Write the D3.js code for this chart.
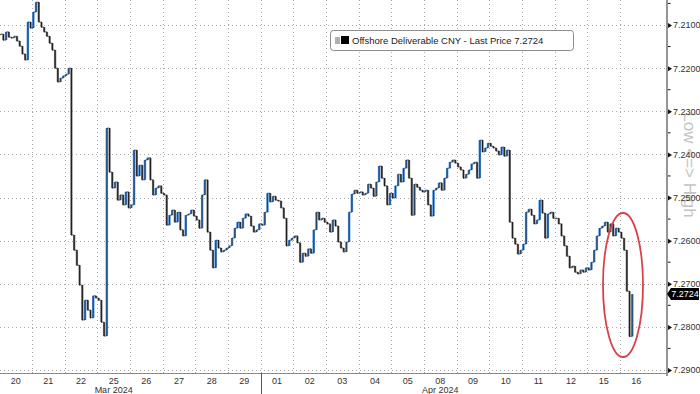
<!DOCTYPE html>
<html>
<head>
<meta charset="utf-8">
<script src="https://cdn.jsdelivr.net/npm/d3@7"></script>
<style>
  html, body { margin: 0; padding: 0; background: #fff; }
  svg { display: block; font-family: "Liberation Sans", Arial, sans-serif; }
</style>
</head>
<body>
<svg id="chart" width="700" height="394"></svg>
<script>
// trading sessions shown on the x axis
const dates = ["2024-03-20", "2024-03-21", "2024-03-22", "2024-03-25", "2024-03-26", "2024-03-27",
  "2024-03-28", "2024-03-29", "2024-04-01", "2024-04-02", "2024-04-03", "2024-04-04", "2024-04-05",
  "2024-04-08", "2024-04-09", "2024-04-10", "2024-04-11", "2024-04-12", "2024-04-15", "2024-04-16"];

// intraday closes per session (USD/CNH)
const mar20 = [7.2121, 7.2135, 7.2116, 7.2128, 7.2130, 7.2126, 7.2137, 7.2149, 7.2167, 7.2181, 7.2093, 7.2107];
const mar21 = [7.2070, 7.2047, 7.2093, 7.2105, 7.2116, 7.2126, 7.2142, 7.2158, 7.2200, 7.2232, 7.2223, 7.2218];
const mar22 = [7.2214, 7.2200, 7.2587, 7.2622, 7.2657, 7.2703, 7.2784, 7.2738, 7.2761, 7.2779, 7.2728, 7.2733];
const mar25 = [7.2738, 7.2789, 7.2821, 7.2339, 7.2441, 7.2478, 7.2464, 7.2506, 7.2494, 7.2517, 7.2487, 7.2524];
const mar26 = [7.2517, 7.2390, 7.2450, 7.2425, 7.2459, 7.2413, 7.2408, 7.2459, 7.2494, 7.2478, 7.2473, 7.2490];
const mar27 = [7.2494, 7.2564, 7.2541, 7.2529, 7.2557, 7.2534, 7.2575, 7.2589, 7.2541, 7.2538, 7.2529, 7.2543];
const mar28 = [7.2552, 7.2571, 7.2494, 7.2459, 7.2580, 7.2622, 7.2663, 7.2599, 7.2617, 7.2626, 7.2622, 7.2617];
const mar29 = [7.2612, 7.2594, 7.2571, 7.2557, 7.2571, 7.2548, 7.2538, 7.2543, 7.2566, 7.2580, 7.2575, 7.2561];
const apr01 = [7.2564, 7.2534, 7.2490, 7.2510, 7.2497, 7.2506, 7.2508, 7.2524, 7.2548, 7.2612, 7.2599, 7.2594];
const apr02 = [7.2589, 7.2605, 7.2650, 7.2629, 7.2636, 7.2619, 7.2629, 7.2575, 7.2534, 7.2552, 7.2548, 7.2557];
const apr03 = [7.2561, 7.2580, 7.2552, 7.2566, 7.2603, 7.2617, 7.2626, 7.2603, 7.2534, 7.2492, 7.2483, 7.2490];
const apr04 = [7.2487, 7.2494, 7.2490, 7.2469, 7.2478, 7.2497, 7.2464, 7.2427, 7.2455, 7.2473, 7.2517, 7.2490];
const apr05 = [7.2501, 7.2473, 7.2446, 7.2464, 7.2432, 7.2413, 7.2455, 7.2541, 7.2469, 7.2476, 7.2483, 7.2487];
const apr08 = [7.2483, 7.2517, 7.2543, 7.2483, 7.2478, 7.2466, 7.2483, 7.2455, 7.2432, 7.2418, 7.2413, 7.2420];
const apr09 = [7.2429, 7.2436, 7.2455, 7.2446, 7.2436, 7.2422, 7.2418, 7.2455, 7.2367, 7.2394, 7.2385, 7.2374];
const apr10 = [7.2381, 7.2385, 7.2392, 7.2401, 7.2383, 7.2404, 7.2390, 7.2557, 7.2594, 7.2608, 7.2631, 7.2622];
const apr11 = [7.2608, 7.2534, 7.2527, 7.2541, 7.2561, 7.2552, 7.2506, 7.2536, 7.2594, 7.2538, 7.2534, 7.2548];
const apr12 = [7.2548, 7.2561, 7.2589, 7.2612, 7.2636, 7.2663, 7.2659, 7.2673, 7.2677, 7.2668, 7.2673, 7.2663];
const apr15 = [7.2668, 7.2650, 7.2622, 7.2589, 7.2571, 7.2566, 7.2557, 7.2580, 7.2561, 7.2589, 7.2571, 7.2580];
const apr16 = [7.2594, 7.2622, 7.2717, 7.2822, 7.2724];

const sessions = [mar20, mar21, mar22, mar25, mar26, mar27, mar28, mar29, apr01, apr02, apr03,
  apr04, apr05, apr08, apr09, apr10, apr11, apr12, apr15, apr16];

const yTicks = [7.21, 7.22, 7.23, 7.24, 7.25, 7.26, 7.27, 7.28, 7.29];
const monthLabels = [["Mar 2024", "2024-03-25"], ["Apr 2024", "2024-04-08"]];
const lastPrice = 7.2724;
const legendText = "Offshore Deliverable CNY - Last Price " + lastPrice.toFixed(4);
const barsPerSession = 12;

const svg = d3.select("#chart");
const axisX = 667, axisY = 373;

// x: one band per trading day, y: inverted price scale (low on top)
const x = d3.scaleBand().domain(dates).range([-0.7, 652.7]);
const y = d3.scaleLinear().domain([7.21, 7.29]).range([25, 370]);
const fmtDay = d3.timeFormat("%d");
const parse = d3.timeParse("%Y-%m-%d");

svg.append("rect").attr("width", 700).attr("height", 394).attr("fill", "#fff");

// dotted grid
svg.append("g")
    .selectAll("line")
    .data(yTicks)
    .enter()
    .append("line")
    .attr("x1", 0).attr("x2", axisX)
    .attr("y1", d => Math.round(y(d)) + 0.5).attr("y2", d => Math.round(y(d)) + 0.5)
    .attr("stroke", "#a8a8a8").attr("stroke-dasharray", "1,3");

svg.append("g")
    .selectAll("line")
    .data(dates.slice(1))
    .enter()
    .append("line")
    .attr("x1", d => Math.round(x(d)) + 0.5).attr("x2", d => Math.round(x(d)) + 0.5)
    .attr("y1", 0).attr("y2", axisY)
    .attr("stroke", "#a8a8a8").attr("stroke-dasharray", "1,3");

// candles: open = previous close
let candles = [];
let prev = null;
sessions.forEach((vals, i) => {
    const step = x.bandwidth() / barsPerSession;
    vals.forEach((v, k) => {
        candles.push({
            x: x(dates[i]) + (k + 0.5) * step,
            open: prev === null ? v : prev,
            close: v
        });
        prev = v;
    });
});

const bars = svg.append("g");
bars.selectAll("rect")
    .data(candles)
    .enter()
    .append("rect")
    .attr("x", d => d.x - 1.2)
    .attr("width", 2.4)
    .attr("y", d => Math.min(y(d.open), y(d.close)))
    .attr("height", d => Math.max(1, Math.abs(y(d.close) - y(d.open))))
    .attr("fill", d => d.close < d.open ? "#3a83d8" : "#8a8a8a");

// dark core of the rising bars, plus the joins between bars
bars.selectAll("line.core")
    .data(candles.filter(d => d.close >= d.open))
    .enter()
    .append("line")
    .attr("class", "core")
    .attr("x1", d => d.x).attr("x2", d => d.x)
    .attr("y1", d => y(d.open)).attr("y2", d => y(d.close) + 0.5)
    .attr("stroke", "#1a1a1a").attr("stroke-width", 0.9);

bars.append("path")
    .datum(candles)
    .attr("d", d3.line().x(d => d.x).y(d => y(d.close)).curve(d3.curveStepAfter))
    .attr("fill", "none")
    .attr("stroke", "#1a1a1a").attr("stroke-width", 0.6);

// x axis
svg.append("line")
    .attr("x1", 0).attr("x2", axisX)
    .attr("y1", axisY + 0.5).attr("y2", axisY + 0.5)
    .attr("stroke", "#8a8a8a");

// month separator
const monthStart = dates.find(d => d.slice(5, 7) === "04");
svg.append("line")
    .attr("x1", Math.round(x(monthStart)) + 0.5).attr("x2", Math.round(x(monthStart)) + 0.5)
    .attr("y1", axisY).attr("y2", 394)
    .attr("stroke", "#555");

svg.append("g")
    .selectAll("text")
    .data(dates)
    .enter()
    .append("text")
    .attr("x", d => x(d) + x.bandwidth() / 2)
    .attr("y", 384)
    .attr("text-anchor", "middle")
    .attr("font-size", 9)
    .attr("fill", "#333")
    .text(d => fmtDay(parse(d)));

svg.append("g")
    .selectAll("text")
    .data(monthLabels)
    .enter()
    .append("text")
    .attr("x", d => x(d[1]) + x.bandwidth() / 2)
    .attr("y", 393)
    .attr("text-anchor", "middle")
    .attr("font-size", 9)
    .attr("fill", "#333")
    .text(d => d[0]);

// right price axis
svg.append("line")
    .attr("x1", axisX).attr("x2", axisX)
    .attr("y1", 0).attr("y2", 376)
    .attr("stroke", "#8a8a8a").attr("stroke-width", 1.8);

// inverted axis note (behind the tick labels)
svg.append("text")
    .attr("transform", "translate(684,165) rotate(90)")
    .attr("text-anchor", "middle")
    .attr("font-size", 17)
    .attr("fill", "#c4c4c4")
    .text("Low <=> High");

const yAxis = svg.append("g")
    .attr("transform", "translate(" + axisX + ",0)")
    .call(d3.axisRight(y).tickValues(yTicks).tickFormat(d3.format(".4f")).tickSize(0).tickPadding(6));
yAxis.select(".domain").remove();
yAxis.selectAll("text").attr("font-size", 9).attr("fill", "#333").attr("font-family", "Liberation Sans, Arial, sans-serif");
yAxis.selectAll(".tick").append("path").attr("d", "M1,-2.5L5,0L1,2.5Z").attr("fill", "#111");

svg.append("g")
    .selectAll("line")
    .data(yTicks.map(t => t - 0.005))
    .enter()
    .append("line")
    .attr("x1", axisX + 1).attr("x2", axisX + 3.5)
    .attr("y1", d => y(d)).attr("y2", d => y(d))
    .attr("stroke", "#111");

// last price tag
const tag = svg.append("g").attr("transform", "translate(0," + y(lastPrice) + ")");
tag.append("path").attr("d", "M667,0L671,-6L699,-6L699,6L671,6Z").attr("fill", "#000");
tag.append("text")
    .attr("x", 685).attr("y", 3.3)
    .attr("text-anchor", "middle")
    .attr("font-size", 9)
    .attr("fill", "#fff")
    .text(lastPrice.toFixed(4));

// legend
svg.append("rect")
    .attr("x", 330.5).attr("y", 30.5).attr("width", 243).attr("height", 20).attr("rx", 3)
    .attr("fill", "#fff").attr("stroke", "#8c8c8c");
svg.append("rect").attr("x", 335).attr("y", 37).attr("width", 5).attr("height", 7).attr("fill", "#b0b0b0");
svg.append("rect").attr("x", 341).attr("y", 36).attr("width", 8).attr("height", 8).attr("fill", "#000");
svg.append("text")
    .attr("x", 352).attr("y", 44)
    .attr("font-size", 9.5)
    .attr("fill", "#222")
    .text(legendText);

// annotation
svg.append("ellipse")
    .attr("cx", 623).attr("cy", 285).attr("rx", 20).attr("ry", 72)
    .attr("fill", "none").attr("stroke", "#d8414a").attr("stroke-width", 1.8);
</script>
</body>
</html>
